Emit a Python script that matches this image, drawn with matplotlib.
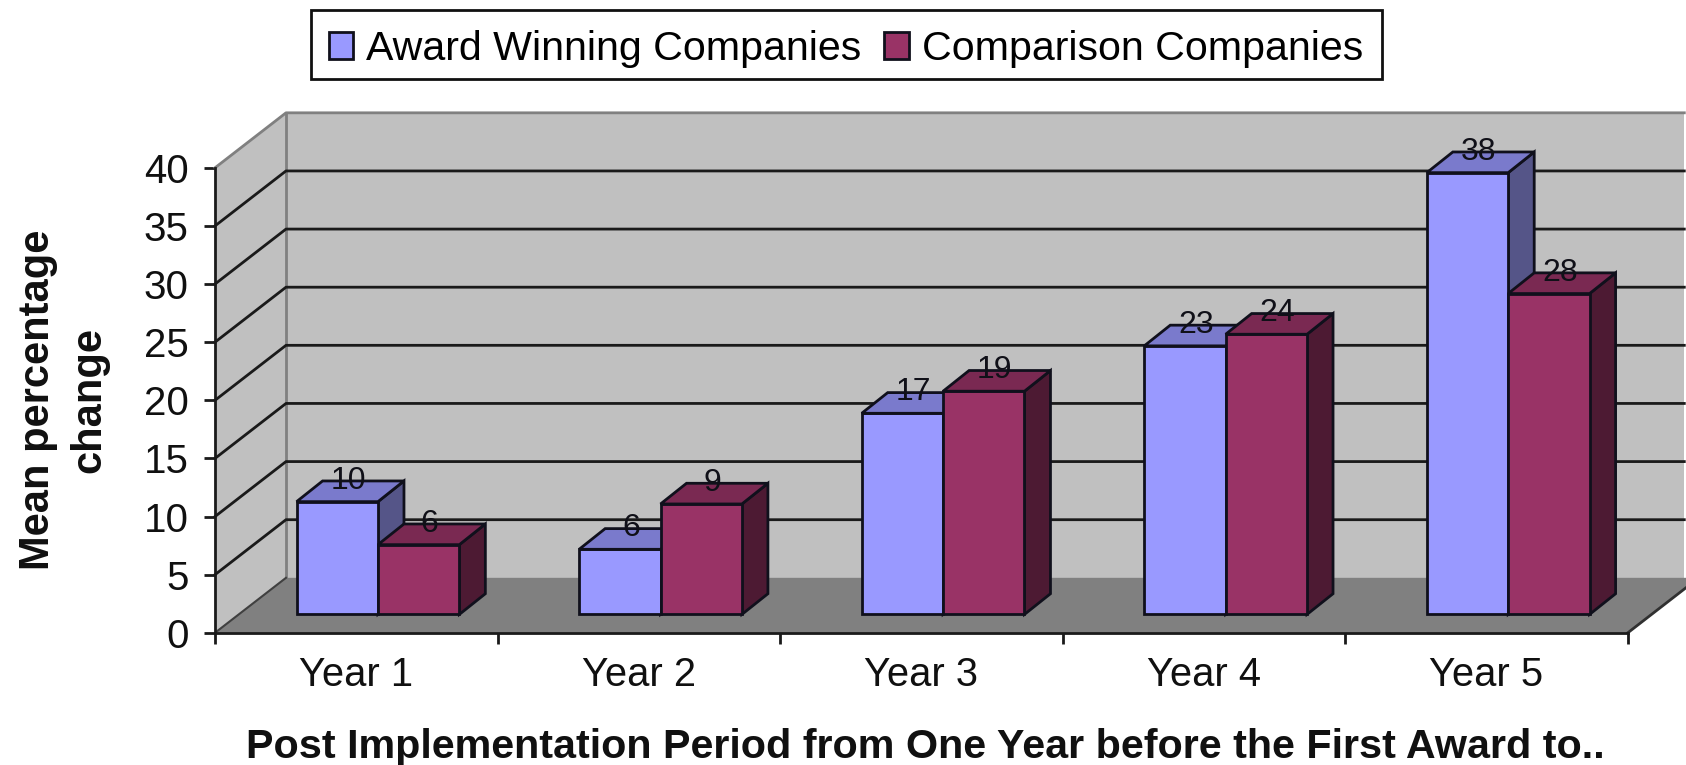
"""
Faux-3D clustered bars: award winners vs comparison companies.
"""

import matplotlib
matplotlib.use('Agg')
import numpy as np
import matplotlib.pyplot as plt
from matplotlib.patches import Patch, Rectangle

plt.rcParams['font.family'] = ['Liberation Sans', 'DejaVu Sans']

#############
############# Data
#############

years = ['Year 1', 'Year 2', 'Year 3', 'Year 4', 'Year 5']
award_values = [9.7, 5.6, 17.3, 23.1, 38.0]
comparison_values = [6.0, 9.5, 19.2, 24.1, 27.6]
award_labels = ['10', '6', '17', '23', '38']
comparison_labels = ['6', '9', '19', '24', '28']
y_ticks = [0, 5, 10, 15, 20, 25, 30, 35, 40]

#############
############# Colours and the look of the fake depth
#############

award_front, award_top, award_side = '#9999FF', '#7A7ACC', '#555588'
comp_front, comp_top, comp_side = '#993366', '#7A2952', '#4D1A33'
wall_color = '#C0C0C0'
floor_color = '#808080'
edge_color = '#10101C'

# Size of the chart depth, in data units (71 px and 55 px on the picture)
wall_dx = 71. / 282.6
wall_dy = 55. / 11.63
# Where the bars sit inside that depth
bar_dx = 21.7 / 282.6
bar_base = 18.4 / 11.63
bar_width = 0.288
bar_depth_x = 26. / 282.6
bar_depth_y = 20.7 / 11.63


# One box: front face with the library's bar, then top and side as polygons
def draw_box(ax, x_left, value, front, top, side):
    y_top = bar_base + value
    x_right = x_left + bar_width
    ax.bar(x_left, value, width=bar_width, bottom=bar_base, align='edge',
           color=front, edgecolor=edge_color, linewidth=2, zorder=4, clip_on=False)
    ax.fill([x_left, x_right, x_right + bar_depth_x, x_left + bar_depth_x],
            [y_top, y_top, y_top + bar_depth_y, y_top + bar_depth_y],
            facecolor=top, edgecolor=edge_color, linewidth=2, zorder=4, clip_on=False)
    ax.fill([x_right, x_right + bar_depth_x, x_right + bar_depth_x, x_right],
            [bar_base, bar_base + bar_depth_y, y_top + bar_depth_y, y_top],
            facecolor=side, edgecolor=edge_color, linewidth=2, zorder=3.9, clip_on=False)


fig = plt.figure(figsize=(16.86, 7.65), dpi=100)
ax = fig.add_axes([215. / 1686, 1 - 632.8 / 765, 1412.8 / 1686, 465. / 765])
ax.set_xlim(0, 5)
ax.set_ylim(0, 40)

############
############ Walls, floor and gridlines
############

ax.fill([wall_dx, 5.2, 5.2, wall_dx], [wall_dy, wall_dy, 40 + wall_dy, 40 + wall_dy],
        facecolor=wall_color, edgecolor='none', zorder=1, clip_on=False)
ax.fill([0, wall_dx, wall_dx, 0], [0, wall_dy, 40 + wall_dy, 40],
        facecolor=wall_color, edgecolor='none', zorder=1, clip_on=False)
ax.fill([0, 5, 5 + wall_dx, wall_dx], [0, 0, wall_dy, wall_dy],
        facecolor=floor_color, edgecolor='none', zorder=1.5, clip_on=False)

# grey borders of the walls
ax.plot([wall_dx, wall_dx], [wall_dy, 40 + wall_dy], color=floor_color, lw=2, zorder=2, clip_on=False)
ax.plot([0, wall_dx, 5.2], [40, 40 + wall_dy, 40 + wall_dy], color=floor_color, lw=2, zorder=2, clip_on=False)
ax.plot([0, wall_dx], [0, wall_dy], color='#404040', lw=1.5, zorder=2, clip_on=False)
ax.plot([5, 5 + wall_dx], [0, wall_dy], color='#303030', lw=2, zorder=2, clip_on=False)

for tick in y_ticks[1:-1]:
    ax.plot([0, wall_dx, 5.2], [tick, tick + wall_dy, tick + wall_dy],
            color='#1A1A1A', lw=2, zorder=2, clip_on=False)

############
############ Bars and their labels
############

for i in range(len(years)):
    x_mid = i + 0.5 + bar_dx
    draw_box(ax, x_mid - bar_width, award_values[i], award_front, award_top, award_side)
    draw_box(ax, x_mid, comparison_values[i], comp_front, comp_top, comp_side)
    ax.text(x_mid - bar_width / 2 + 0.039, bar_base + award_values[i] + 1.8, award_labels[i],
            ha='center', va='center', fontsize=23, color='#101018', zorder=6)
    ax.text(x_mid + bar_width / 2 + 0.039, bar_base + comparison_values[i] + 1.8, comparison_labels[i],
            ha='center', va='center', fontsize=23, color='#101018', zorder=6)

############
############ Axes, labels and legend
############

for name in ['top', 'right']:
    ax.spines[name].set_visible(False)
for name in ['left', 'bottom']:
    ax.spines[name].set_linewidth(2)
    ax.spines[name].set_color('#1A1A1A')
    ax.spines[name].set_zorder(5)

ax.set_yticks(y_ticks)
ax.set_xticks(np.arange(len(years)) + 0.5)
ax.set_xticklabels(years)
ax.set_xticks(np.arange(len(years) + 1), minor=True)
ax.tick_params(axis='x', which='major', length=0, pad=17, labelsize=28.7, labelcolor='#101010')
ax.tick_params(axis='x', which='minor', length=8, width=2, color='#1A1A1A')
ax.tick_params(axis='y', length=8, width=2, color='#1A1A1A', pad=11, labelsize=29, labelcolor='#101010')

ax.set_xlabel('Post Implementation Period from One Year before the First Award to..',
              fontsize=29.7, fontweight='bold', color='#101010')
ax.xaxis.set_label_coords((925. - 215) / 1412.8, -(747. - 632.8) / 465., transform=ax.transAxes)
ax.xaxis.label.set_verticalalignment('center')

ax.set_ylabel('Mean percentage\nchange', fontsize=30, fontweight='bold',
              color='#101010', linespacing=1.38)
ax.yaxis.set_label_coords(-(215. - 63.5) / 1412.8, (632.8 - 400) / 465., transform=ax.transAxes)
ax.yaxis.label.set_verticalalignment('center')

# legend box drawn on its own, the legend's own frame leaves the text too high
fig.add_artist(Rectangle((311. / 1686, 1 - 78.5 / 765), 1071. / 1686, 68. / 765,
                         transform=fig.transFigure, facecolor='white',
                         edgecolor='#101010', linewidth=2))
handles = [Patch(facecolor=award_front, edgecolor=edge_color, linewidth=2),
           Patch(facecolor=comp_front, edgecolor=edge_color, linewidth=2)]
leg = fig.legend(handles, ['Award Winning Companies', 'Comparison Companies'],
                 ncol=2, loc='center', bbox_to_anchor=(846. / 1686, 1 - 49. / 765),
                 fontsize=29.6, frameon=False,
                 handlelength=0.6, handleheight=0.6, handletextpad=0.32, columnspacing=0.55,
                 borderpad=0.35, borderaxespad=0)

fig.savefig('out.png', dpi=100)
